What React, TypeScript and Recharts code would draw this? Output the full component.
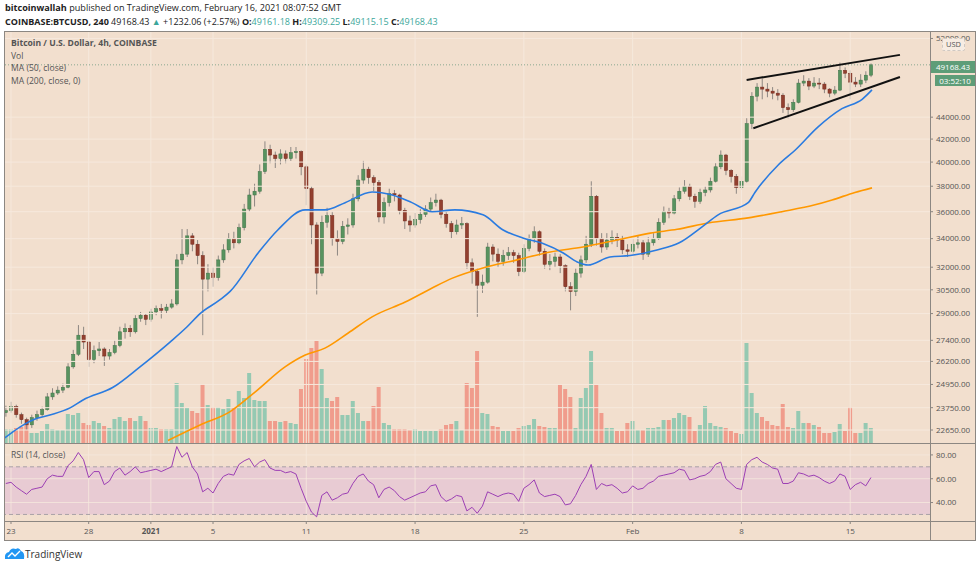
import React from 'react';
import { ComposedChart, Bar, Line, XAxis, YAxis, ReferenceLine, ReferenceArea } from 'recharts';

// ---------- DATA (8h candles, index 0 = Dec 22 16:00) ----------
const dayTickIdx = [1, 16, 28, 40, 58, 79, 100, 121, 142, 163];
const dayTickLabels = ['23', '28', '2021', '5', '11', '18', '25', 'Feb', '8', '15'];
const priceTicks = [52000, 44000, 42000, 40000, 38000, 36000, 34000, 32000, 30500, 29000, 27400, 26200, 24950, 23750, 22650];
const rsiTicks = [40, 60, 80];

const openP = [23500, 23600, 23800, 23400, 23150, 22900, 23250, 23400, 23650, 24300, 24500, 24650, 24800, 25900, 26600, 27700, 27300, 26300, 26800, 26900,
  26500, 26700, 27100, 27900, 28100, 27900, 28700, 28900, 28650, 29100, 29300, 29200, 29400, 29600, 32500, 32900, 34200, 33600, 32800, 31200,
  31600, 31300, 32500, 33200, 34000, 33700, 34800, 36200, 37300, 37600, 39200, 41100, 40600, 40300, 40700, 40300, 40800, 40900, 39600, 37800,
  35000, 31600, 35200, 35700, 34000, 33800, 34900, 35000, 37000, 38500, 39400, 38700, 38300, 35600, 36700, 37400, 37300, 36100, 35300, 35000,
  35400, 35800, 36200, 36700, 36900, 35800, 35100, 34500, 35000, 35100, 32300, 31700, 30800, 31000, 33400, 32900, 32400, 32800, 33000, 32800,
  31700, 33300, 34000, 34500, 33100, 32200, 32400, 32700, 32100, 30700, 30400, 31600, 32500, 33600, 37200, 34000, 33400, 33900, 34100, 33900,
  33200, 33100, 33600, 33700, 32900, 33700, 34000, 35200, 36000, 35900, 37000, 37600, 38000, 37200, 36800, 37500, 37700, 38400, 39600, 40600,
  39300, 38800, 37900, 38400, 43400, 46000, 46900, 46700, 46500, 46300, 46100, 44900, 44700, 45400, 47300, 47500, 47000, 47300, 47200, 46700,
  46300, 46600, 48600, 48300, 47400, 47200, 47600, 48100];
const closeP = [23600, 23800, 23400, 23150, 22900, 23250, 23400, 23650, 24300, 24500, 24650, 24800, 25900, 26600, 27700, 27300, 26300, 26800, 26900, 26500,
  26700, 27100, 27900, 28100, 27900, 28700, 28900, 28650, 29100, 29300, 29200, 29400, 29600, 32500, 32900, 34200, 33600, 32800, 31200, 31600,
  31300, 32500, 33200, 34000, 33700, 34800, 36200, 37300, 37600, 39200, 41100, 40600, 40300, 40700, 40300, 40800, 40900, 39600, 37800, 35000,
  31600, 35200, 35700, 34000, 33800, 34900, 35000, 37000, 38500, 39400, 38700, 38300, 35600, 36700, 37400, 37300, 36100, 35300, 35000, 35400,
  35800, 36200, 36700, 36900, 35800, 35100, 34500, 35000, 35100, 32300, 31700, 30800, 31000, 33400, 32900, 32400, 32800, 33000, 32800, 31700,
  33300, 34000, 34500, 33100, 32200, 32400, 32700, 32100, 30700, 30400, 31600, 32500, 33600, 37200, 34000, 33400, 33900, 34100, 33900, 33200,
  33100, 33600, 33700, 32900, 33700, 34000, 35200, 36000, 35900, 37000, 37600, 38000, 37200, 36800, 37500, 37700, 38400, 39600, 40600, 39300,
  38800, 37900, 38400, 43400, 46000, 46900, 46700, 46500, 46300, 46100, 44900, 44700, 45400, 47300, 47500, 47000, 47300, 47200, 46700, 46300,
  46600, 48600, 48300, 47400, 47200, 47600, 48100, 49168.43];
const highP = [23850, 24050, 23900, 23500, 23250, 23400, 23600, 23800, 24500, 24750, 24850, 25000, 26100, 26850, 28300, 28200, 27400, 27100, 27300, 27000,
  26900, 27400, 28200, 28400, 28300, 28900, 29100, 29000, 29300, 29500, 29600, 29600, 29900, 32900, 34700, 34700, 34400, 33900, 33100, 32200,
  32000, 32800, 33600, 34400, 34500, 35100, 36600, 37800, 38200, 39800, 41800, 41500, 40900, 41100, 41000, 41300, 41300, 41000, 39800, 38000,
  35200, 35700, 36300, 36000, 34600, 35300, 35500, 37400, 38900, 40100, 39600, 38900, 38500, 37100, 37800, 37700, 37400, 36300, 35700, 35900,
  36200, 36500, 37100, 37400, 37000, 36000, 35300, 35400, 35600, 35200, 32600, 31900, 31500, 33700, 33600, 33300, 33200, 33400, 33200, 33000,
  33600, 34300, 34900, 34600, 33300, 32900, 33000, 32900, 32200, 31000, 31900, 32800, 34200, 38400, 37300, 34400, 34400, 34600, 34400, 34200,
  33600, 34000, 34200, 33900, 34100, 34400, 35500, 36400, 36300, 37300, 37900, 38500, 38200, 37400, 37800, 38000, 38700, 39900, 41000, 40700,
  39400, 39000, 38800, 43900, 46400, 47300, 47800, 47300, 46900, 46700, 46300, 45300, 45700, 47700, 48100, 47800, 47900, 47800, 47400, 46800,
  47000, 49400, 48900, 48600, 47900, 48200, 48500, 49309.25];
const lowP = [23300, 23500, 23250, 22950, 22650, 22750, 23100, 23300, 23600, 24150, 24400, 24500, 24750, 25800, 26500, 26900, 25900, 26100, 26500, 25950,
  26300, 26600, 27000, 27500, 27600, 27800, 28500, 28300, 28500, 28900, 28700, 29000, 29300, 29500, 32200, 32700, 33100, 32200, 27700, 30400,
  30700, 31100, 32300, 33000, 33300, 33600, 34600, 36000, 36400, 37400, 39000, 39900, 39500, 39800, 39900, 40100, 40300, 38900, 36500, 33600,
  30200, 31400, 34800, 33500, 32800, 33600, 34300, 34800, 36800, 38200, 38200, 37600, 35200, 35100, 36400, 36800, 35800, 34700, 34500, 34800,
  35100, 35600, 36000, 36400, 35500, 34800, 34000, 34300, 34700, 31900, 30900, 28800, 30300, 30900, 32400, 32000, 32100, 32500, 32300, 31400,
  31600, 33100, 33700, 32800, 31900, 31800, 32000, 31600, 30400, 29200, 30100, 31300, 32300, 33400, 33500, 33000, 33200, 33600, 33400, 32900,
  32700, 32900, 33300, 32500, 32700, 33500, 33900, 35000, 35500, 35800, 36800, 37400, 36900, 36300, 36600, 37200, 37500, 38300, 39400, 38900,
  38300, 37400, 37700, 38300, 42900, 45500, 45700, 45900, 45700, 45600, 44400, 43900, 44500, 45300, 47000, 46600, 46800, 46700, 46300, 45900,
  46100, 46500, 47800, 45700, 46900, 46900, 47300, 47900];
const volume = [14, 14, 15, 16, 18, 10, 10, 12, 19, 14, 13, 13, 29, 28, 30, 20, 18, 22, 20, 17,
  15, 24, 26, 22, 25, 22, 27, 22, 15, 15, 14, 14, 14, 60, 40, 35, 32, 30, 59, 38,
  36, 36, 34, 44, 35, 52, 45, 70, 43, 42, 42, 22, 22, 21, 22, 20, 19, 54, 84, 95,
  102, 74, 45, 42, 46, 28, 28, 42, 30, 22, 22, 37, 56, 20, 18, 14, 14, 14, 13, 14,
  12, 12, 12, 12, 14, 18, 19, 22, 13, 60, 55, 92, 30, 29, 17, 16, 12, 12, 12, 15,
  17, 18, 24, 17, 16, 15, 15, 58, 54, 46, 15, 45, 55, 92, 58, 30, 15, 15, 12, 12,
  20, 22, 13, 13, 15, 15, 16, 23, 23, 25, 30, 28, 26, 12, 18, 37, 20, 17, 16, 15,
  12, 10, 9, 100, 50, 30, 26, 22, 18, 17, 39, 16, 15, 32, 20, 20, 18, 16, 10, 10,
  11, 19, 12, 36, 10, 10, 20, 15].map(v => v * 100);
const rsiVals = [56, 57, 53, 50, 47, 51, 52, 53, 60, 63, 62, 62, 71, 75, 82, 76, 61, 66, 66, 55,
  58, 66, 69, 63, 66, 70, 65, 66, 67, 68, 66, 68, 70, 87, 78, 82, 70, 64, 49, 52,
  48, 56, 62, 64, 63, 72, 75, 77, 70, 74, 76, 69, 67, 67, 65, 66, 64, 52, 41, 32,
  28, 46, 49, 42, 44, 47, 48, 56, 62, 64, 58, 55, 44, 51, 53, 50, 45, 42, 44, 46,
  48, 49, 54, 55, 45, 41, 43, 46, 45, 33, 36, 31, 37, 49, 47, 45, 47, 48, 47, 41,
  52, 55, 59, 48, 45, 46, 47, 45, 38, 39, 46, 55, 62, 72, 51, 56, 54, 55, 52, 48,
  49, 54, 51, 52, 56, 58, 62, 63, 64, 65, 68, 67, 59, 60, 62, 63, 66, 72, 74, 60,
  56, 52, 51, 72, 76, 78, 74, 72, 69, 68, 56, 56, 58, 65, 64, 62, 63, 61, 58, 56,
  58, 64, 62, 51, 55, 57, 54, 61];

const ma50Idx = [-0.2, 2.7, 5.2, 8.5, 12.4, 14.9, 20.7, 25.9, 31.7, 35.0, 37.5, 41.3, 43.3, 48.7, 52.5, 57.8, 61.6, 65.5, 70.7, 74.6,
  78.4, 82.3, 86.7, 92.1, 96.0, 99.8, 103.7, 107.6, 110.3, 112.4, 116.6, 120.5, 125.7, 130.0, 134.4, 137.5, 143.3, 144.6, 149.1, 152.4,
  156.8, 161.4, 165.3, 167.2];
const ma50Val = [22270, 22790, 23140, 23380, 23740, 24140, 24800, 25900, 27300, 28200, 29000, 29850, 30400, 32980, 34630, 36140, 36140, 36700, 37540, 37300,
  36700, 36000, 36140, 35760, 34630, 34050, 33650, 32980, 32360, 32150, 32700, 32800, 33190, 33700, 34860, 35760, 36700, 37500, 39750, 41040,
  43100, 44800, 45700, 46620];
const ma200Idx = [31.3, 37.5, 43.3, 48.1, 53.9, 57.8, 61.6, 66.1, 70.7, 77.1, 82.3, 86.1, 92.1, 98.7, 105.1, 111.4, 118.0, 124.4, 129.6, 135.6,
  143.3, 149.8, 156.2, 159.5, 163.9, 167.2];
const ma200Val = [22150, 22890, 23550, 24550, 25900, 26560, 26950, 27830, 28800, 29720, 30620, 31250, 31950, 32500, 33050, 33400, 33900, 34400, 34680, 35150,
  35530, 36000, 36530, 36910, 37500, 37870];

const wedgeUpper = [{ x: 143.0, y: 47620 }, { x: 172.6, y: 50220 }];
const wedgeLower = [{ x: 144.3, y: 42980 }, { x: 172.6, y: 47920 }];
const lastPrice = 49168.43;

// ---------- derived rows ----------
const rows = closeP.map((c, i) => ({
  i,
  o: openP[i], h: highP[i], l: lowP[i], c,
  range: [lowP[i], highP[i]],
  vol: volume[i],
  rsi: rsiVals[i],
}));
const ma50Data = ma50Idx.map((x, k) => ({ i: x, v: ma50Val[k] }));
const ma200Data = ma200Idx.map((x, k) => ({ i: x, v: ma200Val[k] }));

const X_DOMAIN: [number, number] = [-0.35, 178.4];
const PRICE_DOMAIN: [number, number] = [22034, 52830];
const FONT = '"Open Sans", "Noto Sans", Arial, sans-serif';
const BG = '#f2dfce';
const GRID = '#f6e9dd';
const TEAL = '#3ca79b';

const Candle = (props: any) => {
  const { x, y, width, height, payload } = props;
  if (!payload || x == null || y == null) return null;
  const { o, c, h, l } = payload;
  const top = Math.min(y, y + height);
  const hh = Math.abs(height);
  const cx = x + width / 2;
  const lh = Math.log(h), ll = Math.log(l);
  const span = lh - ll || 1;
  const py = (p: number) => top + (hh * (lh - Math.log(p))) / span;
  const b1 = py(Math.max(o, c));
  const b2 = py(Math.min(o, c));
  const up = c >= o;
  const bw = 3.2;
  return (
    <g>
      <line x1={cx} x2={cx} y1={top} y2={top + hh} stroke="#8d8782" strokeWidth={1} />
      <rect x={cx - bw / 2} y={b1} width={bw} height={Math.max(1, b2 - b1)}
        fill={up ? '#58935f' : '#93402f'} stroke={up ? '#3f7248' : '#73281c'} strokeWidth={0.5} />
    </g>
  );
};

const VolBar = (props: any) => {
  const { x, y, width, height, payload } = props;
  if (!payload || x == null || y == null) return null;
  const top = Math.min(y, y + height);
  const hh = Math.abs(height);
  const cx = x + width / 2;
  const up = payload.c >= payload.o;
  return <rect x={cx - 2} y={top} width={4} height={hh} fill={up ? '#95c9b2' : '#f09c8c'} />;
};

const TimeTick = (props: any) => {
  const { x, y, payload } = props;
  const k = dayTickIdx.indexOf(payload.value);
  const label = k >= 0 ? dayTickLabels[k] : '';
  return (
    <text x={x} y={y + 8} textAnchor="middle" fontSize={8} fontFamily={FONT}
      fontWeight={label === '2021' ? 700 : 400} fill="#555">{label}</text>
  );
};

export default function App() {
  return (
    <div style={{ position: 'absolute', left: 0, top: 0, width: 980, height: 568, background: '#fff', overflow: 'hidden', fontFamily: FONT }}>
      {/* header */}
      <div style={{ position: 'absolute', left: 5, top: 1, fontSize: 9.1, lineHeight: '14px', color: '#222', whiteSpace: 'nowrap' }}>
        <b>bitcoinwallah</b> published on TradingView.com, February 16, 2021 08:07:52 GMT
      </div>
      <div style={{ position: 'absolute', left: 5, top: 15, fontSize: 9, lineHeight: '14px', color: '#222', whiteSpace: 'nowrap' }}>
        <b>COINBASE:BTCUSD, 240</b> 49168.43 <span style={{ color: TEAL }}>▲</span> +1232.06 (+2.57%) <b>O:</b><span style={{ color: TEAL }}>49161.18</span>{' '}
        <b>H:</b><span style={{ color: TEAL }}>49309.25</span> <b>L:</b><span style={{ color: TEAL }}>49115.15</span> <b>C:</b><span style={{ color: TEAL }}>49168.43</span>
      </div>

      {/* chart background */}
      <div style={{ position: 'absolute', left: 4, top: 31, width: 972, height: 510, background: BG }} />

      {/* main pane */}
      <div style={{ position: 'absolute', left: 4, top: 31 }}>
        <ComposedChart width={972} height={412} data={rows} margin={{ top: 0, right: 0, bottom: 0, left: 0 }}>
          <XAxis dataKey="i" type="number" domain={X_DOMAIN} allowDataOverflow hide ticks={dayTickIdx} />
          <YAxis yAxisId="price" orientation="right" scale="log" type="number" domain={PRICE_DOMAIN} allowDataOverflow
            ticks={priceTicks} interval={0} width={46} axisLine={false} tickSize={3} tickMargin={3}
            tickLine={{ stroke: '#8a8580' }} tick={{ fontSize: 8, fill: '#555', fontFamily: FONT }}
            tickFormatter={(v: number) => v.toFixed(2)} />
          <YAxis yAxisId="vol" hide domain={[0, 41200]} allowDataOverflow />
          {dayTickIdx.map(t => <ReferenceLine key={'vx' + t} yAxisId="price" x={t} stroke={GRID} strokeWidth={1} />)}
          {priceTicks.map(t => <ReferenceLine key={'hy' + t} yAxisId="price" y={t} stroke={GRID} strokeWidth={1} />)}
          <Bar yAxisId="vol" dataKey="vol" barSize={4} shape={<VolBar />} isAnimationActive={false} />
          <Line yAxisId="price" data={ma200Data} dataKey="v" type="monotone" stroke="#ff9800" strokeWidth={1.6} dot={false} isAnimationActive={false} />
          <Bar yAxisId="price" dataKey="range" barSize={4} shape={<Candle />} isAnimationActive={false} />
          <Line yAxisId="price" data={ma50Data} dataKey="v" type="monotone" stroke="#2a7be0" strokeWidth={1.6} dot={false} isAnimationActive={false} />
          <ReferenceLine yAxisId="price" y={lastPrice} stroke="#8aa88f" strokeDasharray="1 2" strokeWidth={1} />
          <ReferenceLine yAxisId="price" segment={wedgeUpper} stroke="#111" strokeWidth={2} ifOverflow="visible" />
          <ReferenceLine yAxisId="price" segment={wedgeLower} stroke="#111" strokeWidth={2} ifOverflow="visible" />
        </ComposedChart>
      </div>

      {/* RSI pane + time axis */}
      <div style={{ position: 'absolute', left: 4, top: 443 }}>
        <ComposedChart width={972} height={98} data={rows} margin={{ top: 0, right: 0, bottom: 0, left: 0 }}>
          <XAxis dataKey="i" type="number" domain={X_DOMAIN} allowDataOverflow ticks={dayTickIdx} interval={0}
            height={20} axisLine={false} tickSize={3} tickLine={{ stroke: '#8a8580' }} tick={<TimeTick />} />
          <YAxis orientation="right" type="number" domain={[24.5, 90]} allowDataOverflow ticks={rsiTicks} interval={0}
            width={46} axisLine={false} tickSize={3} tickMargin={3} tickLine={{ stroke: '#8a8580' }}
            tick={{ fontSize: 8, fill: '#555', fontFamily: FONT }} tickFormatter={(v: number) => v.toFixed(2)} />
          <ReferenceArea y1={30} y2={70} fill="#e8cbd3" fillOpacity={1} stroke="none" />
          {dayTickIdx.map(t => <ReferenceLine key={'rv' + t} x={t} stroke={GRID} strokeOpacity={0.8} />)}
          {rsiTicks.map(t => <ReferenceLine key={'rh' + t} y={t} stroke={GRID} strokeOpacity={0.8} />)}
          <ReferenceLine y={70} stroke="#a9a1a6" strokeDasharray="4 3" />
          <ReferenceLine y={30} stroke="#a9a1a6" strokeDasharray="4 3" />
          <Line dataKey="rsi" type="linear" stroke="#9c3fb4" strokeWidth={1} dot={false} isAnimationActive={false} />
        </ComposedChart>
      </div>

      {/* frame */}
      <svg width={980} height={568} style={{ position: 'absolute', left: 0, top: 0, pointerEvents: 'none' }}>
        <rect x={4.5} y={31.5} width={971} height={509} fill="none" stroke="#8c8782" strokeWidth={1} />
        <line x1={930.5} x2={930.5} y1={31} y2={541} stroke="#8c8782" />
        <line x1={4} x2={976} y1={443.5} y2={443.5} stroke="#8c8782" />
        <line x1={4} x2={976} y1={521.5} y2={521.5} stroke="#8c8782" />
        {/* TradingView logo */}
        <path d="M5 559 Q4 553 9 552 Q11 547 16 549 Q19 547 21 551 Q25 552 24 559 Z" fill="#2196f3" />
        <path d="M8 557 L12 553 L15 556 L20 551" stroke="#fff" strokeWidth={1.4} fill="none" />
      </svg>

      {/* legends */}
      <div style={{ position: 'absolute', left: 11, top: 37, fontSize: 8.6, lineHeight: '12.5px', color: '#555', whiteSpace: 'nowrap' }}>
        <div style={{ fontWeight: 700 }}>Bitcoin / U.S. Dollar, 4h, COINBASE</div>
        <div>Vol</div>
        <div>MA (50, close)</div>
        <div>MA (200, close, 0)</div>
      </div>
      <div style={{ position: 'absolute', left: 11, top: 449, fontSize: 8.6, lineHeight: '12px', color: '#555', whiteSpace: 'nowrap' }}>RSI (14, close)</div>

      {/* price tags */}
      <div style={{ position: 'absolute', left: 942, top: 38, width: 21, height: 11, border: '1px dashed #cfc8c2', background: '#f7ece2', borderRadius: 2, fontSize: 7.5, lineHeight: '11px', textAlign: 'center', color: '#555' }}>USD</div>
      <div style={{ position: 'absolute', left: 931, top: 61, width: 44, height: 12, background: '#5e9d78', color: '#fff', fontSize: 8, lineHeight: '12px', textAlign: 'center' }}>49168.43</div>
      <div style={{ position: 'absolute', left: 935, top: 75, width: 40, height: 11, background: '#5e9d78', color: '#fff', fontSize: 8, lineHeight: '11px', textAlign: 'center' }}>03:52:10</div>

      <div style={{ position: 'absolute', left: 25, top: 547, fontSize: 10, lineHeight: '14px', color: '#333' }}>TradingView</div>
    </div>
  );
}
